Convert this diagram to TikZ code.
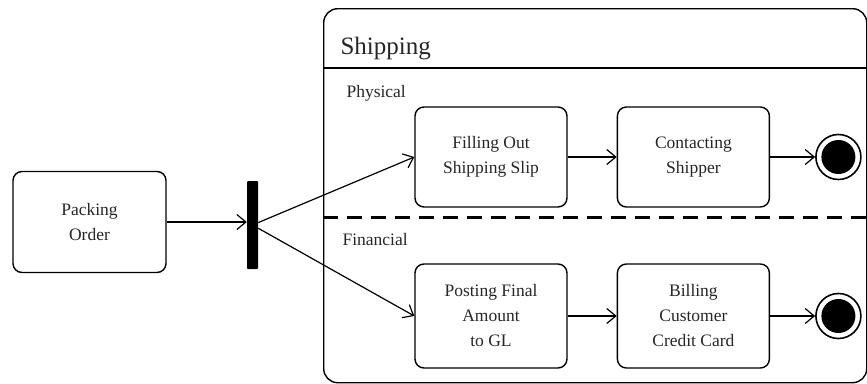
\documentclass[tikz,border=0pt]{standalone}
\usepackage{fontspec}
\setmainfont{Liberation Serif}
\usetikzlibrary{arrows.meta,positioning}

\begin{document}
\begin{tikzpicture}[
      x=1pt,y=1pt,
      font=\fontsize{17.5}{25}\selectfont,node distance=49pt,
      act/.style={draw,rounded corners=9pt,line width=1.4pt,align=center,
                  minimum width=152pt,minimum height=100pt,inner sep=2pt,text=black!85},
      lane/.style={anchor=base west,text=black!85},
      fin/.style={circle,draw,line width=1.6pt,minimum size=45pt,inner sep=0pt,
                  path picture={\fill (path picture bounding box.center) circle (17pt);}},
      arr/.style={-{Straight Barb[length=9pt,width=15pt]},line width=1.2pt}]
    \useasboundingbox (0,0) rectangle (867,-383);
    % swimlane frame
    \node[draw,line width=1.4pt,rounded corners=14pt,minimum width=543pt,
          minimum height=374pt,anchor=north west,inner sep=0pt] (ship) at (323,-8) {};
    \node[lane,font=\fontsize{25}{30}\selectfont] (title) at (337,-54) {Shipping};
    \draw[line width=1.2pt] ([yshift=-60pt]ship.north west) -- ([yshift=-60pt]ship.north east);
    \draw[line width=3pt,dash pattern=on 15pt off 9pt] ([yshift=-209pt]ship.north west) -- ([yshift=-209pt]ship.north east);
    \node[lane] (phys) at (343,-97) {Physical};
    \node[lane] (finc) at (339,-245) {Financial};
    % actions
    \node[act,minimum width=153pt,minimum height=101pt] (pack) at (89.5,-222) {Packing\\Order};
    \node[fill=black,minimum width=11pt,minimum height=88pt,inner sep=0pt,rounded corners=1pt] (fork) at (252.5,-225) {};
    \node[act] (fill) at (491,-157) {Filling Out\\Shipping Slip};
    \node[act,right=of fill] (contact) {Contacting\\Shipper};
    \node[fin,right=45pt of contact] (endA) {};
    \node[act,minimum height=104pt] (post) at (491,-316) {Posting Final\\Amount\\to GL};
    \node[act,minimum height=104pt,right=of post] (bill) {Billing\\Customer\\Credit Card};
    \node[fin,right=45pt of bill] (endB) {};
    \draw[arr] (pack.east) -- (pack.east -| fork.west);
    \draw[arr] (fork) -- (fill.west); \draw[arr] (fork) -- (post.west);
    \draw[arr] (fill) -- (contact); \draw[arr] (contact) -- (endA);
    \draw[arr] (post) -- (bill); \draw[arr] (bill) -- (endB);
\end{tikzpicture}
\end{document}
